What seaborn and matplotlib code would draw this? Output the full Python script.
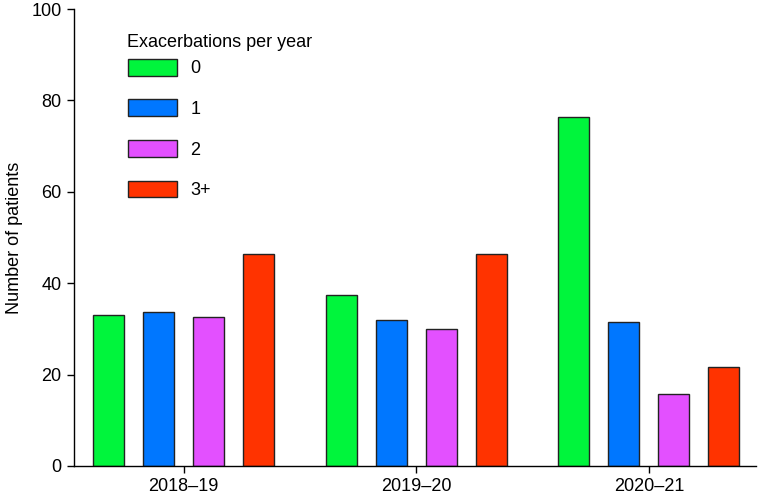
import pandas as pd
import matplotlib.pyplot as plt
import seaborn as sns

# values
seasons = ['2018–19', '2019–20', '2020–21']
exacerbations = ['0', '1', '2', '3+']
counts_0 = [33.0, 37.4, 76.4]
counts_1 = [33.7, 31.9, 31.5]
counts_2 = [32.5, 30.0, 15.7]
counts_3 = [46.4, 46.4, 21.7]
colors = ['#00f53c', '#0077ff', '#e350ff', '#ff3300']

rows = []
for label, vals in zip(exacerbations, [counts_0, counts_1, counts_2, counts_3]):
    for season, v in zip(seasons, vals):
        rows.append({'season': season, 'exac': label, 'patients': v})
df = pd.DataFrame(rows)

sns.set_style('ticks')
plt.rcParams['font.family'] = ['Liberation Sans', 'DejaVu Sans']
plt.rcParams['text.color'] = 'black'
plt.rcParams['axes.labelcolor'] = 'black'
plt.rcParams['xtick.color'] = 'black'
plt.rcParams['ytick.color'] = 'black'

fig = plt.figure(figsize=(7.58, 5.03), dpi=100)
ax = fig.add_axes([0.0976, 0.0736, 0.8994, 0.9084])

sns.barplot(data=df, x='season', y='patients', hue='exac', order=seasons,
            hue_order=exacerbations, palette=colors, width=0.86, gap=0.38,
            edgecolor='#222222', linewidth=1.0, saturation=1, ax=ax)

ax.set_ylim(0, 100)
ax.set_xlim(-0.472, 2.459)
ax.set_yticks([0, 20, 40, 60, 80, 100])
ax.set_xlabel('')
ax.set_ylabel('Number of patients', fontsize=13, labelpad=6)
ax.tick_params(axis='both', labelsize=13, length=5, width=1, pad=4)
for s in ['top', 'right']:
    ax.spines[s].set_visible(False)
for s in ['left', 'bottom']:
    ax.spines[s].set_linewidth(1)
    ax.spines[s].set_color('black')

# legend entries, title drawn separately to match its spacing
ax.legend(loc='upper left', bbox_to_anchor=(0.0792, 0.891), frameon=False,
          fontsize=13, borderpad=0, borderaxespad=0,
          handlelength=2.7, handleheight=1.05, labelspacing=1.22,
          handletextpad=0.75)
ax.text(0.0777, 0.917, 'Exacerbations per year', transform=ax.transAxes,
        fontsize=13, ha='left', va='baseline')

plt.savefig('out.png', dpi=100)
